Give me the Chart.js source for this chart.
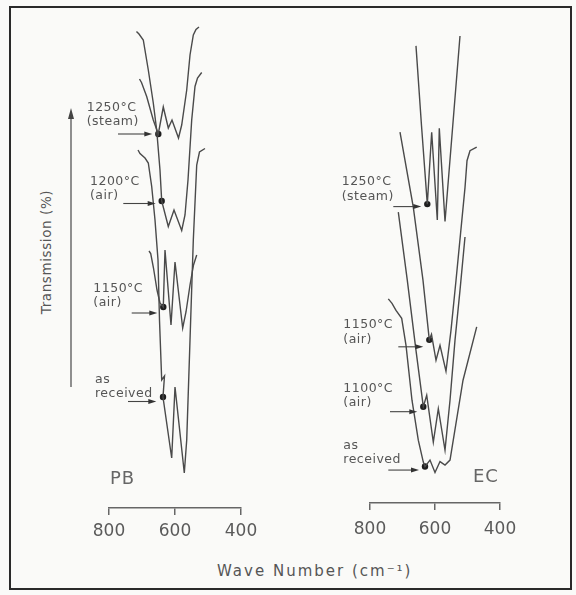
<!DOCTYPE html>
<html><head><meta charset="utf-8">
<script src="https://cdn.jsdelivr.net/npm/chart.js@4.4.1/dist/chart.umd.min.js"></script>
<style>
html,body{margin:0;padding:0;background:#fafaf8;}
#wrap{position:relative;width:576px;height:595px;overflow:hidden;background:#fafaf8;}
canvas{position:absolute;left:0;top:0;}
#frame{position:absolute;left:9px;top:6px;width:563px;height:584px;border:2px solid #2a2a2a;box-sizing:border-box;}
#xtitle{position:absolute;left:217px;top:562px;font:15px "DejaVu Sans";letter-spacing:2px;color:#555;white-space:nowrap;}
#ytitle{position:absolute;left:46px;top:252px;transform:translate(-50%,-50%) rotate(-90deg);font:13.5px "DejaVu Sans";letter-spacing:0.6px;color:#555;white-space:nowrap;}
#yarrow{position:absolute;left:0;top:0;}
</style></head>
<body>
<div id="wrap">
  <div id="frame"></div>
  <svg id="yarrow" width="576" height="595"><line x1="71" y1="116" x2="71" y2="387" stroke="#555" stroke-width="1.3"/><polygon points="71,108 68,119 74,119" fill="#444"/></svg>
  <div id="ytitle">Transmission (%)</div>
  <div id="xtitle">Wave Number (cm⁻¹)</div>
  <canvas id="pb" width="576" height="595"></canvas>
  <canvas id="ec" width="576" height="595"></canvas>
</div>
<script>
// ---- PB panel data (wave number cm-1, transmission arb. units, offset curves)
const pbSteamWn = [707.6,701.5,685.8,665.8,650.6,635.5,620.3,609.1,589.4,579.7,564.5,554.5,544.5,536.4,527.3];
const pbSteamT  = [85.8,85.1,82.3,77.6,74.8,80.2,76.0,77.6,74.0,76.6,83.6,90.6,94.6,95.7,96.2];
const pb1200Wn  = [716.7,709.1,696.1,680.9,665.8,655.5,645.5,640.3,620.3,603.0,579.7,569.7,560.6,549.4,539.4,531.8,519.1];
const pb1200T   = [95.3,94.8,93.6,87.6,81.0,75.6,67.6,61.4,56.3,59.6,55.5,58.6,65.6,77.6,84.3,86.0,87.1];
const pb1150Wn  = [678.8,673.6,665.2,654.5,645.5,635.5,630.3,612.1,600.0,576.7,566.7,554.5,543.9,534.2];
const pb1150T   = [51.4,50.9,48.0,43.6,41.0,40.2,51.6,36.6,49.2,36.0,39.2,44.6,48.6,50.6];
const pbAsRecWn = [712.1,706.1,690.9,680.9,670.6,660.6,651.5,647.0,640.3,631.8,636.4,610.0,600.0,571.8,564.5,554.5,544.5,534.2,525.8,509.1];
const pbAsRecT  = [71.6,70.9,70.0,69.0,64.3,57.6,49.6,37.6,25.6,26.4,22.2,10.0,24.2,7.0,13.6,33.6,53.6,68.6,71.2,71.9];
const pbMarkWn  = [650.6,640.3,635.5,636.4];
const pbMarkT   = [74.8,61.4,40.2,22.2];
const pbLabels  = [['1250°C','(steam)'],['1200°C','(air)'],['1150°C','(air)'],['as','received']];

// ---- EC panel data
const ecSteamWn = [658.5,641.5,623.7,610.2,592.9,586.8,569.2,523.1];
const ecSteamT  = [91.6,75.6,59.9,74.3,56.7,75.1,56.4,93.6];
const ec1150Wn  = [707.7,666.8,636.9,617.5,610.8,596.9,584.6,566.2,550.8,535.4,507.7,501.5,492.3,471.7];
const ec1150T   = [74.3,59.3,44.6,32.7,33.8,28.6,31.6,26.4,34.6,44.6,63.2,68.6,70.6,71.3];
const ec1100Wn  = [712.9,685.2,658.5,636.0,625.5,605.2,589.8,569.2,553.8,538.5,523.1,507.7];
const ec1100T   = [58.3,44.6,30.6,19.3,21.6,12.2,18.9,10.6,20.6,32.6,42.6,53.3];
const ecAsRecWn = [743.7,732.3,720.0,702.5,689.2,670.8,651.4,636.0,630.8,615.4,600.0,584.6,569.2,553.8,513.8,471.7];
const ecAsRecT  = [40.9,40.0,38.6,37.0,31.6,20.6,12.6,8.2,7.3,8.6,6.1,8.3,7.6,8.6,24.6,35.3];
const ecMarkWn  = [623.7,617.5,636.0,630.8];
const ecMarkT   = [59.9,32.7,19.3,7.3];
const ecLabels  = [['1250°C','(steam)'],['1150°C','(air)'],['1100°C','(air)'],['as','received']];

const tickValues = [800,600,400];
const pbName = 'PB', ecName = 'EC';

// ---- annotation anchors (data units)
const pbNotes = {
  labels: [[867.6,80.1],[857.6,65.3],[847.6,43.9],[842.4,25.7]],
  arrows: [[772.7,668.8,74.8],[756.7,658.5,60.9],[731.2,653.6,39.0],[742.4,656.7,21.3]],
  name: [797,5.8]
};
const ecNotes = {
  labels: [[887.1,64.3],[882.2,35.7],[882.2,22.9],[882.2,11.5]],
  arrows: [[728.3,642.2,59.4],[712.9,636.0,31.3],[738.5,654.5,18.3],[743.7,649.2,6.6]],
  name: [483.1,5.2]
};

const zip = (a,b) => a.map((v,i)=>({x:v,y:b[i]}));
const LINE = '#4a4a4a';
function curve(wn,t){ return {data:zip(wn,t), borderColor:LINE, borderWidth:1.4, pointRadius:0, tension:0, fill:false, clip:false}; }
function marks(wn,t){ return {data:zip(wn,t), showLine:false, pointRadius:3.2, pointStyle:'circle', backgroundColor:'#1e1e1e', borderColor:'#1e1e1e', borderWidth:0, clip:false}; }

function notesPlugin(labels, notes, name){
  return {
    id:'notes',
    afterDraw(chart){
      const {ctx} = chart; const xs = chart.scales.x, ys = chart.scales.y;
      ctx.save();
      ctx.fillStyle = '#555'; ctx.textBaseline = 'middle'; ctx.textAlign = 'left';
      ctx.font = '12.5px "DejaVu Sans"';
      try{ ctx.letterSpacing = '0.5px'; }catch(e){}
      labels.forEach((ls,i)=>{
        const x = xs.getPixelForValue(notes.labels[i][0]);
        const y = ys.getPixelForValue(notes.labels[i][1]);
        ls.forEach((s,j)=> ctx.fillText(s, x, y + j*14.5));
      });
      ctx.strokeStyle = '#444'; ctx.fillStyle = '#333'; ctx.lineWidth = 1.1;
      notes.arrows.forEach(a=>{
        const x1 = xs.getPixelForValue(a[0]), x2 = xs.getPixelForValue(a[1]), y = ys.getPixelForValue(a[2]);
        ctx.beginPath(); ctx.moveTo(x1,y); ctx.lineTo(x2-5,y); ctx.stroke();
        ctx.beginPath(); ctx.moveTo(x2,y); ctx.lineTo(x2-8,y-2.5); ctx.lineTo(x2-8,y+2.5); ctx.closePath(); ctx.fill();
      });
      ctx.fillStyle = '#666'; ctx.font = '18px "DejaVu Sans"';
      try{ ctx.letterSpacing = '1px'; }catch(e){}
      ctx.fillText(name, xs.getPixelForValue(notes.name[0]), ys.getPixelForValue(notes.name[1]));
      ctx.restore();
    }
  };
}

function makeChart(id, datasets, pad, tickPad, labels, notes, name){
  return new Chart(document.getElementById(id), {
    type:'line',
    data:{datasets},
    options:{
      responsive:false, animation:false, events:[],
      layout:{padding:pad},
      plugins:{legend:{display:false}, tooltip:{enabled:false}},
      scales:{
        x:{type:'linear', reverse:true, min:400, max:800,
           afterBuildTicks:s=>{ s.ticks = tickValues.map(v=>({value:v})); },
           afterFit:s=>{ s.height = 50; },
           grid:{drawOnChartArea:false, drawTicks:true, tickLength:7, color:'#666', lineWidth:1.5},
           border:{display:true, color:'#666', width:1.5},
           ticks:{color:'#5a5a5a', font:{family:'DejaVu Sans', size:17}, padding:tickPad, maxRotation:0, autoSkip:false}
        },
        y:{display:false, min:0, max:100}
      }
    },
    plugins:[notesPlugin(labels, notes, name)]
  });
}

makeChart('pb', [curve(pbSteamWn,pbSteamT), curve(pb1200Wn,pb1200T), curve(pb1150Wn,pb1150T), curve(pbAsRecWn,pbAsRecT), marks(pbMarkWn,pbMarkT)],
  {left:109, right:335, top:8, bottom:37}, 6, pbLabels, pbNotes, pbName);
makeChart('ec', [curve(ecSteamWn,ecSteamT), curve(ec1150Wn,ec1150T), curve(ec1100Wn,ec1100T), curve(ecAsRecWn,ecAsRecT), marks(ecMarkWn,ecMarkT)],
  {left:370, right:76, top:3, bottom:42}, 9, ecLabels, ecNotes, ecName);
</script>
</body></html>
